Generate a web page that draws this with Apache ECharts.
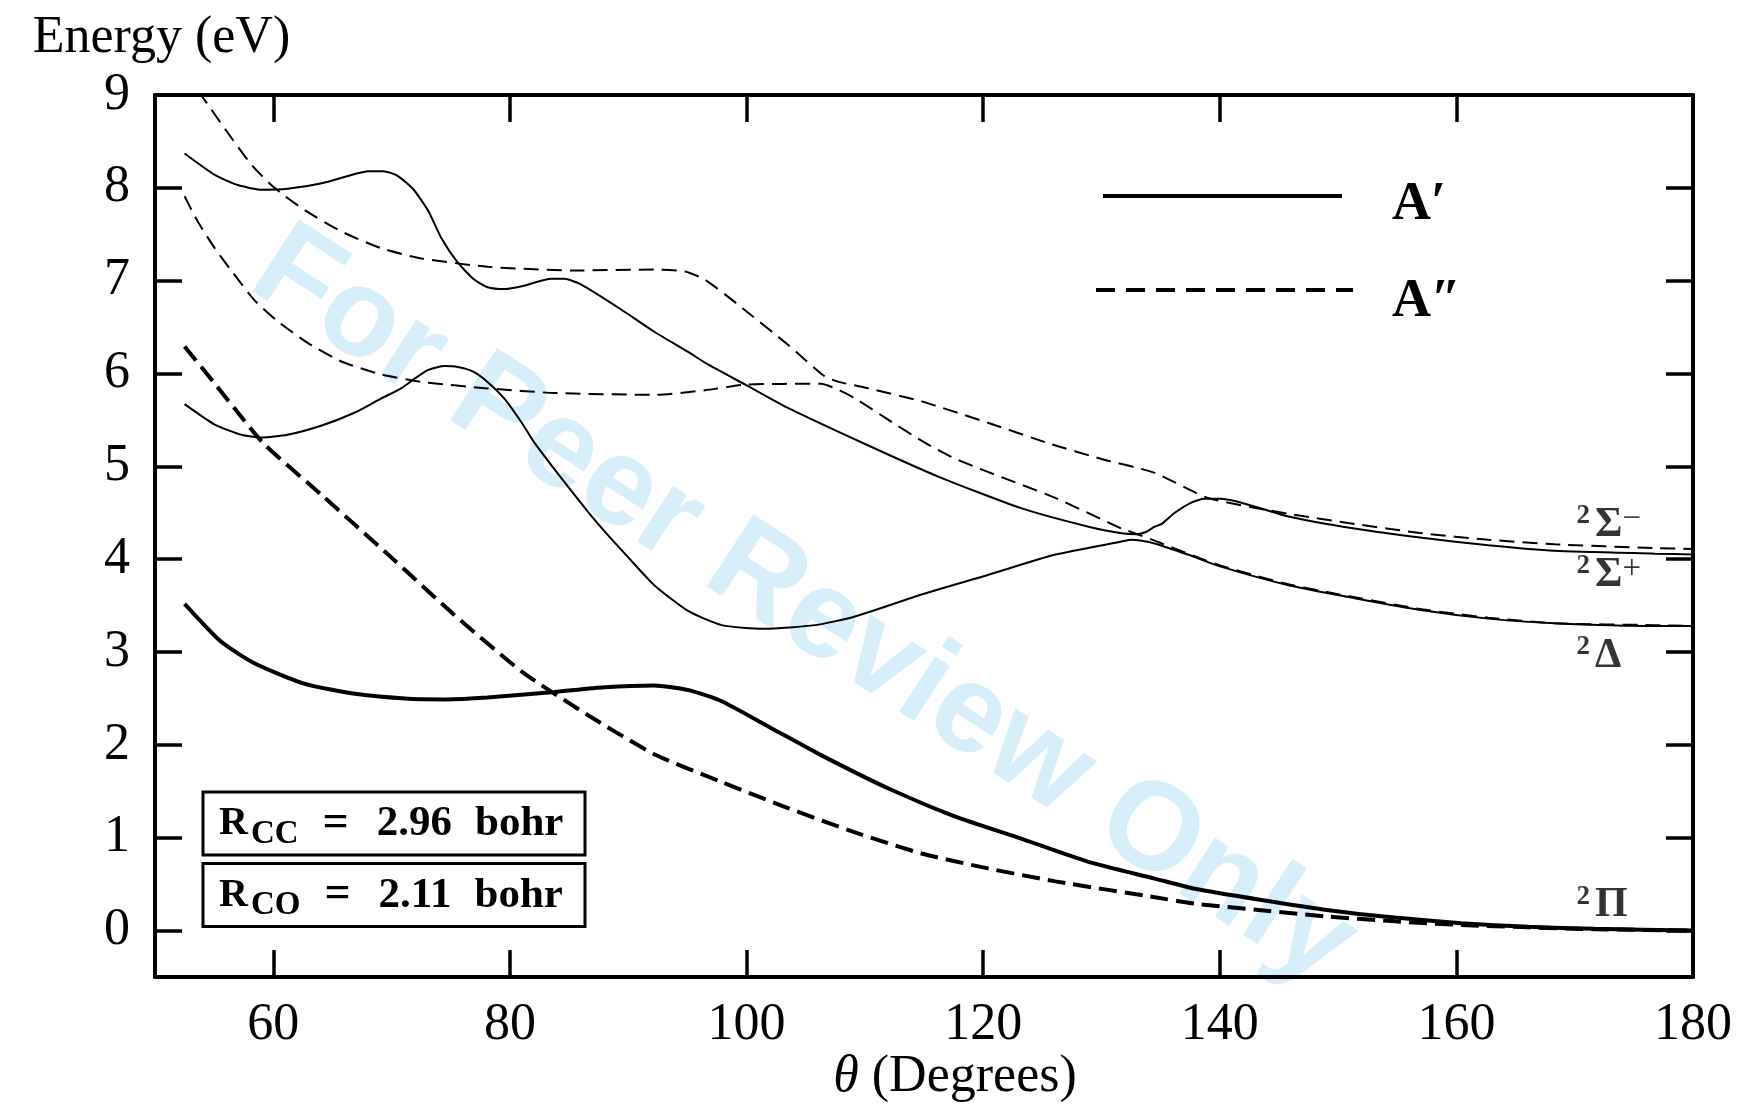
<!DOCTYPE html>
<html>
<head>
<meta charset="utf-8">
<title>Bending potential energy curves</title>
<script src="https://cdn.jsdelivr.net/npm/echarts@6/dist/echarts.min.js"></script>
<style>
  html, body { margin: 0; padding: 0; background: #fff; }
  #chart { width: 1739px; height: 1108px; }
</style>
</head>
<body>
<div id="chart"></div>
<script>
// Bending angle θ (degrees) against energy (eV), as [θ, E] pairs.

// ²Π, A′ component
const piAp = [[52.5,3.52],[55.6,3.11],[58.4,2.88],[62.6,2.66],[66.9,2.55],[71.1,2.50],[74.5,2.49],[78.1,2.51],[83.8,2.57],[88.0,2.62],[92.2,2.64],[95.1,2.59],[97.9,2.47],[102.1,2.18],[106.3,1.89],[112.0,1.53],[117.6,1.23],[123.2,0.99],[128.9,0.74],[134.5,0.56],[137.9,0.45],[143.5,0.33],[149.2,0.22],[154.8,0.14],[160.4,0.08],[166.1,0.04],[171.7,0.02],[180,0.0]];

// ²Π, A″ component
const piApp = [[52.5,6.29],[55.0,5.90],[57.0,5.58],[59.3,5.23],[64.1,4.69],[69.7,4.05],[75.3,3.40],[81.0,2.79],[86.6,2.32],[92.2,1.90],[97.9,1.60],[103.5,1.32],[109.1,1.06],[114.8,0.83],[120.4,0.67],[126.1,0.53],[134.5,0.36],[137.9,0.29],[143.5,0.22],[149.2,0.15],[154.8,0.10],[160.4,0.06],[166.1,0.035],[171.7,0.015],[180,0.0]];

// second A′ root (correlates with ²Δ at linearity)
const deltaAp = [[52.5,5.67],[55.05,5.45],[57.3,5.34],[59.0,5.31],[61.2,5.34],[64.1,5.44],[66.9,5.58],[69.1,5.73],[70.8,5.84],[72.0,5.95],[73.1,6.04],[74.5,6.08],[75.6,6.07],[76.9,6.02],[78.1,5.91],[79.6,5.72],[81.0,5.47],[82.1,5.25],[84.0,4.93],[86.6,4.51],[88.0,4.30],[90.0,4.02],[92.2,3.72],[95.1,3.44],[97.9,3.29],[101.5,3.25],[105.8,3.29],[109.1,3.38],[114.8,3.62],[120.4,3.83],[126.1,4.05],[131.7,4.19],[132.5,4.21],[133.4,4.20],[134.5,4.17],[137.3,4.05],[140.1,3.92],[145.8,3.72],[151.4,3.58],[157.1,3.45],[162.7,3.36],[168.3,3.31],[176.8,3.28],[180,3.28]];

// third A′ root (correlates with ²Σ⁺)
const sigmaPlusAp = [[52.5,8.37],[55.05,8.14],[57.0,8.03],[59.0,7.98],[61.2,7.99],[64.1,8.05],[66.9,8.15],[68.0,8.18],[69.3,8.18],[70.5,8.13],[71.8,7.99],[73.1,7.75],[74.2,7.46],[75.5,7.21],[76.9,7.02],[78.1,6.93],[79.6,6.91],[81.0,6.94],[83.5,7.02],[84.6,7.02],[86.0,6.96],[89.4,6.69],[92.2,6.45],[95.1,6.23],[96.7,6.10],[99.9,5.88],[103.5,5.63],[110.2,5.23],[116.2,4.89],[123.2,4.55],[128.9,4.35],[131.7,4.28],[133.0,4.27],[133.7,4.29],[134.5,4.35],[135.1,4.38],[136.2,4.50],[137.6,4.61],[138.7,4.65],[140.1,4.65],[145.8,4.46],[151.4,4.33],[157.1,4.23],[162.7,4.15],[168.3,4.09],[176.8,4.06],[180,4.05]];

// second A″ root (correlates with ²Δ)
const deltaApp = [[52.5,7.91],[53.6,7.64],[55.05,7.35],[56.5,7.10],[58.4,6.79],[60.4,6.56],[62.9,6.33],[65.75,6.13],[69.1,5.99],[72.5,5.91],[78.1,5.84],[83.8,5.79],[92.2,5.77],[96.5,5.82],[99.9,5.88],[106.3,5.89],[107.5,5.84],[109.2,5.73],[112.0,5.50],[115.0,5.26],[117.5,5.09],[120.4,4.94],[126.1,4.66],[131.7,4.33],[132.8,4.28],[134.5,4.20],[137.3,4.06],[140.1,3.93],[145.8,3.73],[151.4,3.59],[157.1,3.46],[162.7,3.37],[168.3,3.31],[176.8,3.29],[180,3.28]];

// third A″ root (correlates with ²Σ⁻)
const sigmaMinusApp = [[52.5,9.24],[54.06,8.97],[56.0,8.62],[58.15,8.25],[60.1,8.00],[62.65,7.76],[65.75,7.53],[69.1,7.35],[72.5,7.24],[78.1,7.15],[85.2,7.11],[92.2,7.12],[94.8,7.10],[96.5,7.01],[99.3,6.74],[103.5,6.31],[106.6,5.97],[107.8,5.91],[110.3,5.84],[114.8,5.70],[120.4,5.47],[125.5,5.25],[130.0,5.08],[134.5,4.93],[139.0,4.66],[145.8,4.49],[151.4,4.38],[157.1,4.28],[162.7,4.21],[168.3,4.16],[176.8,4.12],[180,4.11]];

// axis ticks
const thetaTicks = [60, 80, 100, 120, 140, 160, 180];
const energyTicks = [0, 1, 2, 3, 4, 5, 6, 7, 8, 9];

// linear-molecule state labels at the right edge
const stateTheta = 170.15;
const stateEnergy = [4.37, 3.83, 2.96, 0.275];
const stateText = ['{s|2}{g|Σ}{p|−}', '{s|2}{g|Σ}{p|+}', '{s|2}{g|Δ}', '{s|2}{g|Π}'];

// bond lengths held fixed
const bondText = ['{R|R}{c|CC}{e|=}{n|2.96}{u|bohr}', '{R|R}{c|CO}{e|=}{n|2.11}{u|bohr}'];

const SERIF = '"Liberation Serif", "Times New Roman", serif';
const SANS = '"Liberation Sans", Arial, sans-serif';

const chart = echarts.init(document.getElementById('chart'), null, { renderer: 'canvas' });

function curve(name, data, width, dash) {
  return {
    type: 'line', name: name, data: data,
    xAxisIndex: 0, yAxisIndex: 0,
    symbol: 'none', showSymbol: false,
    smooth: 0.2, clip: true, silent: true,
    color: '#000',
    lineStyle: { color: '#000', width: width, type: dash || 'solid' },
    emphasis: { disabled: true },
    z: 3
  };
}

const axisLine = { onZero: false, lineStyle: { color: '#000', width: 4 } };
const tickStyle = { color: '#000', width: 3.5 };
const labelFont = { fontFamily: SERIF, fontSize: 52, color: '#000' };

function legendFor(name, left, top, width, dash, pad, drop) {
  return {
    data: [name], left: left, top: top, orient: 'vertical',
    padding: 0, itemGap: 0, itemWidth: width, itemHeight: 14,
    selectedMode: false,
    lineStyle: { color: '#000', width: 4, type: dash },
    itemStyle: { color: 'transparent', borderColor: 'transparent', borderWidth: 0 },
    formatter: '{t|{name}}',
    textStyle: {
      rich: { t: { fontFamily: SERIF, fontSize: 54, fontWeight: 'bold', color: '#000',
                   lineHeight: 60, padding: [drop, 0, 0, pad] } }
    }
  };
}

function bondBox(i) {
  const top = 792 + i * 71.5;
  return [
    { type: 'rect', silent: true, z: 5,
      shape: { x: 203, y: top, width: 382, height: 63 },
      style: { fill: '#fff', stroke: '#000', lineWidth: 3 } },
    { type: 'text', silent: true, z: 6, x: 219, y: top + 32,
      style: {
        text: bondText[i],
        textVerticalAlign: 'middle', verticalAlign: 'middle',
        rich: {
          R: { fontFamily: SERIF, fontWeight: 'bold', fontSize: 40, lineHeight: 40, fill: '#000' },
          c: { fontFamily: SERIF, fontWeight: 'bold', fontSize: 33, lineHeight: 40,
               padding: [20, 0, 0, 3], fill: '#000' },
          e: { fontFamily: SERIF, fontWeight: 'bold', fontSize: 46, lineHeight: 40, padding: [0, 0, 0, 24], fill: '#000' },
          n: { fontFamily: SERIF, fontWeight: 'bold', fontSize: 43, lineHeight: 40, padding: [0, 0, 0, 28], fill: '#000' },
          u: { fontFamily: SERIF, fontWeight: 'bold', fontSize: 43, lineHeight: 40, padding: [0, 0, 0, 23], fill: '#000' }
        }
      } }
  ];
}

const option = {
  animation: false,
  backgroundColor: '#fff',
  grid: { left: 155, right: 46, top: 95, bottom: 131, containLabel: false, outerBoundsMode: 'none' },
  xAxis: [
    {
      type: 'value', min: 50, max: 180, position: 'bottom',
      axisLine: axisLine,
      axisTick: { inside: true, length: 27, lineStyle: tickStyle, customValues: thetaTicks },
      axisLabel: Object.assign({ customValues: thetaTicks, margin: 22 }, labelFont),
      splitLine: { show: false },
      name: '{i|θ} (Degrees)', nameLocation: 'middle', nameGap: 74, nameMoveOverlap: false,
      nameTextStyle: Object.assign({ padding: [0, 0, 0, 62], rich: { i: { fontFamily: SERIF, fontSize: 52, fontStyle: 'italic', color: '#000' } } }, labelFont)
    },
    {
      type: 'value', min: 50, max: 180, position: 'top',
      axisLine: axisLine,
      axisTick: { inside: true, length: 27, lineStyle: tickStyle, customValues: thetaTicks },
      axisLabel: { show: false },
      splitLine: { show: false }
    }
  ],
  yAxis: [
    {
      type: 'value', min: -0.5, max: 9, position: 'left',
      axisLine: axisLine,
      axisTick: { inside: true, length: 27, lineStyle: tickStyle, customValues: energyTicks },
      axisLabel: Object.assign({ customValues: energyTicks, margin: 25 }, labelFont),
      splitLine: { show: false },
      name: 'Energy (eV)', nameLocation: 'end', nameGap: 31, nameMoveOverlap: false,
      nameTextStyle: Object.assign({ padding: [0, 0, 0, 13] }, labelFont)
    },
    {
      type: 'value', min: -0.5, max: 9, position: 'right',
      axisLine: axisLine,
      axisTick: { inside: true, length: 27, lineStyle: tickStyle, customValues: energyTicks },
      axisLabel: { show: false },
      splitLine: { show: false }
    }
  ],
  legend: [
    legendFor('A′', 1101, 160, 239, 'solid', 45, 18),
    legendFor('A″', 1094, 251, 257, [19, 11], 34, 24)
  ],
  series: [
    curve('A′', piAp, 4),
    curve('A″', piApp, 4, [18, 8]),
    curve('A′', deltaAp, 2),
    curve('A′', sigmaPlusAp, 2),
    curve('A″', deltaApp, 2, [15, 8]),
    curve('A″', sigmaMinusApp, 2, [15, 8]),
    {
      type: 'scatter', name: 'states', silent: true, symbolSize: 0, z: 4,
      data: stateEnergy.map((e, i) => ({ value: [stateTheta, e], text: stateText[i] })),
      label: {
        show: true, position: 'right', distance: 0,
        formatter: p => p.data.text,
        rich: {
          s: { fontFamily: SERIF, fontWeight: 'bold', fontSize: 27, lineHeight: 22, verticalAlign: 'top', color: '#000' },
          g: { fontFamily: SERIF, fontWeight: 'bold', fontSize: 42, lineHeight: 44, padding: [0, 0, 0, 5], color: '#000' },
          p: { fontFamily: SERIF, fontSize: 33, lineHeight: 24, verticalAlign: 'top', color: '#000' }
        }
      }
    }
  ],
  graphic: [
    { type: 'text', silent: true, z: -1, x: 803, y: 608, rotation: -33 * Math.PI / 180,
      style: { text: 'For Peer Review Only', font: 'bold 125px ' + SANS, fill: '#d6effb',
               textAlign: 'center', align: 'center', textVerticalAlign: 'middle', verticalAlign: 'middle' } }
  ].concat(bondBox(0), bondBox(1))
};

chart.setOption(option);
</script>
</body>
</html>
